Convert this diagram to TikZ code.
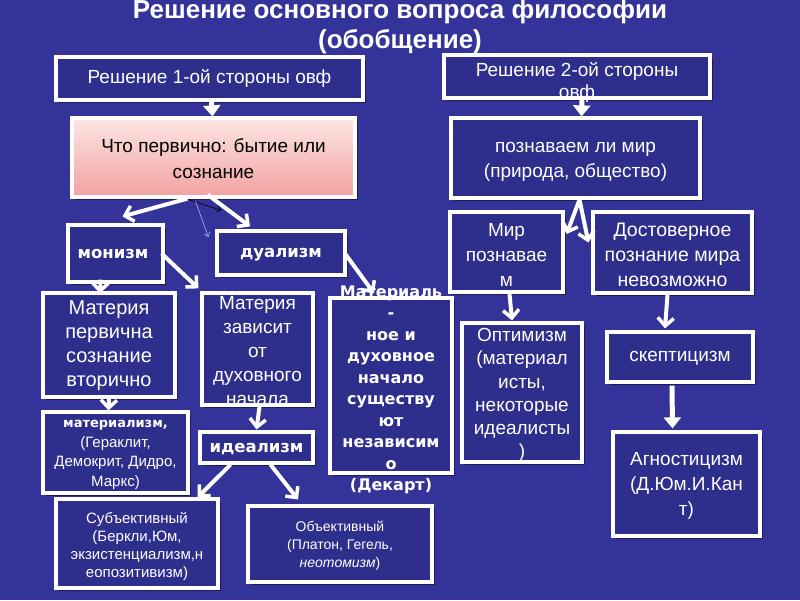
\documentclass[tikz,border=0pt]{standalone}
\usepackage{fontspec}
\setmainfont{Liberation Sans}
\newfontfamily\dvs{DejaVu Sans}
\usetikzlibrary{arrows.meta,shadows,calc}
\definecolor{bg}{HTML}{333399}
\definecolor{boxfill}{HTML}{2E2E8C}
\definecolor{pinktop}{HTML}{FCE6E4}
\definecolor{pinkbot}{HTML}{F2A2A2}
\definecolor{thinblue}{HTML}{A8B8FF}
\begin{document}
\begin{tikzpicture}[x=1pt,y=-1pt,
  box/.style={draw=white, line width=3.2pt, fill=boxfill, rectangle, inner sep=0pt,
    drop shadow={shadow xshift=2.5pt,shadow yshift=-2.5pt,fill=black,opacity=0.45}},
  txt/.style={text=white, align=center, inner sep=0pt, font=\fontsize{19}{24}\selectfont},
  bx/.style={text=white, align=center, inner sep=0pt, font=\dvs\bfseries\fontsize{16}{21.5}\selectfont},
  ttl/.style={text=white, inner sep=0pt, font=\bfseries\fontsize{26}{30}\selectfont},
  arr/.style={draw=white, line width=4pt, -{Straight Barb[length=8pt,width=16pt,line width=3.5pt]}},
  tarr/.style={draw=white, line width=5pt, -{Triangle[length=11pt,width=17pt]}},
  thinarr/.style={line width=0.6pt, -{Straight Barb[length=4pt,width=6pt]}},
]
\fill[bg] (0,0) rectangle (800,600);
\useasboundingbox (0,0) rectangle (800,600);

% title
\node[ttl] (t1) at (400,12) {Решение основного вопроса философии};
\node[ttl] (t2) at (400,42) {(обобщение)};

% boxes
\node[box, minimum width=307pt, minimum height=43pt] (b1) at (209.5,78.5) {};
\node[txt] (b1t) at (b1) {Решение 1-ой стороны овф};

\node[box, minimum width=266pt, minimum height=43pt] (b2) at (577,76.5) {};
\node[txt, font=\fontsize{19}{22}\selectfont] (b2t) at (577,82) {Решение 2-ой стороны\\овф};

\node[box, top color=pinktop, bottom color=pinkbot, minimum width=283pt, minimum height=79pt] (b3) at (213.5,157.5) {};
\node[txt, text=black, font=\fontsize{19}{26}\selectfont] (b3t) at (213.5,159) {Что первично: бытие или\\сознание};

\node[box, minimum width=249pt, minimum height=80pt] (b4) at (575.5,158) {};
\node[txt, font=\fontsize{19}{25}\selectfont] (b4t) at (575.5,162) {познаваем ли мир\\(природа, общество)};

\node[box, minimum width=95pt, minimum height=57pt] (mon) at (115.5,253.5) {};
\node[bx, font=\dvs\bfseries\fontsize{16.5}{20}\selectfont] (mont) at (113,254) {монизм};

\node[box, minimum width=128pt, minimum height=44pt] (dual) at (281,253) {};
\node[bx, font=\dvs\bfseries\fontsize{16.5}{20}\selectfont] (dualt) at (281,255) {дуализм};

\node[box, minimum width=113pt, minimum height=80pt] (mir) at (506.5,252) {};
\node[txt, font=\fontsize{19}{25}\selectfont] (mirt) at (506.5,255) {Мир\\познавае\\м};

\node[box, minimum width=159pt, minimum height=81pt] (dost) at (672.5,252.5) {};
\node[txt, font=\fontsize{19.5}{25}\selectfont] (dostt) at (672.5,255) {Достоверное\\познание мира\\невозможно};

\node[box, minimum width=132pt, minimum height=104pt] (matp) at (109,345) {};
\node[txt, font=\fontsize{20}{24}\selectfont] (matpt) at (109,346) {Материя\\первична\\сознание\\вторично};

\node[box, minimum width=111pt, minimum height=112pt] (matz) at (257.5,349) {};
\node[txt, font=\fontsize{19}{24}\selectfont] (matzt) at (257.5,351) {Материя\\зависит\\от\\духовного\\начала};

\node[box, minimum width=122pt, minimum height=175pt] (dek) at (391,385.5) {};
\node[bx] (dekt) at (391,390) {Материаль\\-\\ное и\\духовное\\начало\\существу\\ют\\независим\\о\\(Декарт)};

\node[box, minimum width=120pt, minimum height=139pt] (opt) at (522,392.5) {};
\node[txt, font=\fontsize{19}{23.3}\selectfont] (optt) at (522,395) {Оптимизм\\(материал\\исты,\\некоторые\\идеалисты\\)};

\node[box, minimum width=146pt, minimum height=50pt] (skep) at (680,357) {};
\node[txt] (skept) at (680,358) {скептицизм};

\node[box, minimum width=147pt, minimum height=104pt] (agn) at (686.5,484) {};
\node[txt, font=\fontsize{19}{25}\selectfont] (agnt) at (686.5,486) {Агностицизм\\(Д.Юм.И.Кан\\т)};

\node[box, minimum width=145pt, minimum height=81pt] (mat) at (115.5,452.5) {};
\node[txt, font=\fontsize{15}{19.5}\selectfont] (matt) at (115.5,455) {{\dvs\bfseries\fontsize{13}{19.5}\selectfont материализм,}\\(Гераклит,\\Демокрит, Дидро,\\Маркс)};

\node[box, minimum width=113pt, minimum height=31pt] (ideal) at (256.5,447.5) {};
\node[bx, font=\dvs\bfseries\fontsize{16.5}{20}\selectfont] (idealt) at (256.5,449) {идеализм};

\node[box, minimum width=162pt, minimum height=89pt] (subj) at (137,543.5) {};
\node[txt, font=\fontsize{15}{18}\selectfont] (subjt) at (137,546) {Субъективный\\(Беркли,Юм,\\экзистенциализм,н\\еопозитивизм)};

\node[box, minimum width=184pt, minimum height=76pt] (obj) at (340,544) {};
\node[txt, font=\fontsize{14}{18}\selectfont] (objt) at (340,546) {Объективный\\(Платон, Гегель,\\\textit{неотомизм})};

% connectors
\draw[tarr] ($(b1.south)+(2,0)$) -- ($(b3.north)+(-1,0)$);
\draw[tarr] ($(b2.south)+(5,0)$) -- ($(b4.north)+(6,0)$);
\draw[arr] ($(b3.south)+(-26,0)$) -- ($(mon.north)+(7,-7)$);
\draw[arr] ($(b3.south)+(-6,-4)$) -- ($(dual.north)+(-31,-3)$);
\draw[thinarr, black] ($(b3.south)+(-25,1)$) -- ($(dual.north west)+(6,-19)$);
\draw[thinarr, thinblue] ($(b3.south)+(-18,3)$) -- ($(dual.west)+(-7,-16)$);
\draw[arr] ($(mon.east)+(-3,0)$) -- ($(matz.north west)+(-2,-3)$);
\draw[arr] ($(mon.south)+(-15,-4)$) -- ($(matp.north)+(-9,2)$);
\draw[arr] ($(dual.east)+(-2,0)$) -- ($(dek.north)+(-17,-3)$);
\draw[arr] (matp.south) -- ($(mat.north)+(-7,0)$);
\draw[arr] ($(matz.south)+(2,0)$) -- ($(ideal.north)+(0,-1)$);
\draw[arr] ($(ideal.south)+(-26,0)$) -- ($(subj.north east)+(-22,0)$);
\draw[arr] ($(ideal.south)+(14,0)$) -- ($(obj.north)+(-42,-5)$);
\draw[arr] ($(b4.south)+(4,0)$) -- ($(mir.east)+(2,-18)$);
\draw[arr] ($(b4.south)+(4,0)$) -- ($(dost.west)+(-3,-10)$);
\draw[arr] ($(mir.south)+(3,0)$) -- ($(opt.north)+(-10,-1)$);
\draw[arr] ($(dost.south)+(-5,0)$) -- ($(skep.north)+(-15,-2)$);
\draw[tarr] ($(skep.south)+(-8,2)$) -- ($(agn.north)+(-14,-2)$);
\end{tikzpicture}
\end{document}
